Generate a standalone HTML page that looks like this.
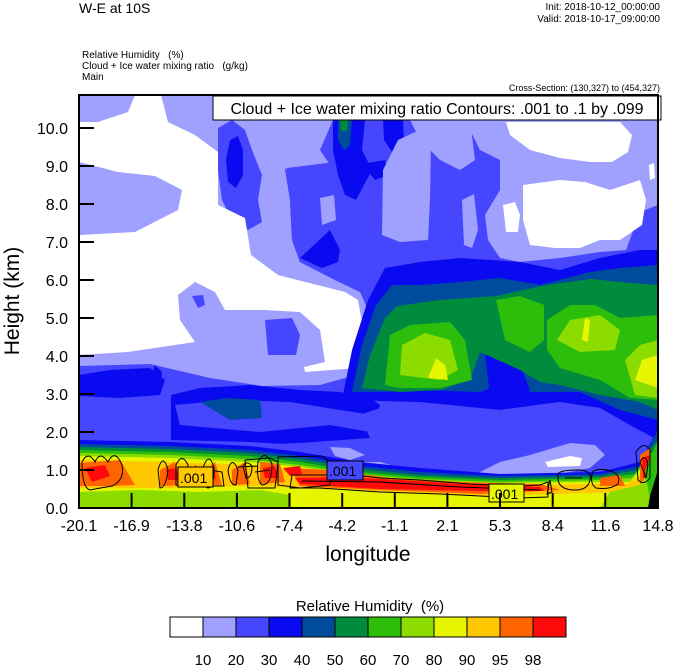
<!DOCTYPE html>
<html><head><meta charset="utf-8"><style>
body{margin:0;background:#fff;}
svg{display:block;font-family:"Liberation Sans",sans-serif;}
text{white-space:pre;}
</style></head><body>
<svg width="674" height="667" viewBox="0 0 674 667" xmlns="http://www.w3.org/2000/svg">
<defs><clipPath id="c"><rect x="79" y="95" width="579" height="413"/></clipPath></defs>
<g clip-path="url(#c)">
<rect x="79" y="95" width="579" height="413" fill="#4646ff"/>
<path fill="#a0a0ff" d="M79,95 L225,95 L240,95 L291,95 L291,150 L285,170 L290,200 L292,240 L300,262 L335,280 L360,292 L368,310 L362,340 L352,376 L320,385 L262,386 L210,378 L150,364 L79,366 Z"/>
<path fill="#a0a0ff" d="M250,95 L335,95 L333,120 L320,150 L330,165 L287,170 Z"/>
<path fill="#4646ff" d="M287,168 L335,162 L362,164 L380,235 L376,300 L360,292 L335,280 L300,262 L292,240 L290,200 Z"/>
<path fill="#4646ff" d="M218,128 L232,120 L245,130 L252,150 L262,175 L258,200 L262,222 L248,230 L232,220 L222,200 L218,170 Z"/>
<path fill="#0a0af0" d="M230,140 L238,136 L243,150 L243,175 L236,188 L228,182 L226,160 Z"/>
<path fill="#a0a0ff" d="M320,198 L334,195 L336,220 L322,225 Z"/>
<path fill="#0a0af0" d="M300,258 L330,230 L340,250 L338,262 L322,268 Z"/>
<path fill="#fff" d="M98,122 L128,112 L135,95 L161,95 L168,122 L195,135 L218,152 L218,205 L245,218 L251,255 L278,275 L345,292 L358,300 L362,322 L358,368 L305,372 L300,345 L268,310 L225,310 L224,335 L195,342 L128,352 L79,355 L79,235 L135,232 L178,210 L182,190 L155,176 L118,172 L79,162 L79,122 Z"/>
<path fill="#a0a0ff" d="M178,295 L195,282 L215,292 L225,310 L225,335 L195,342 L180,320 Z"/>
<path fill="#4646ff" d="M192,296 L203,295 L205,305 L198,308 Z"/>
<path fill="#a0a0ff" d="M263,310 L300,312 L320,330 L325,362 L300,368 L265,360 Z"/>
<path fill="#4646ff" d="M265,320 L292,318 L300,335 L296,355 L268,355 Z"/>
<path fill="#0a0af0" d="M333,120 L365,120 L362,150 L372,170 L356,200 L345,195 L338,175 L333,150 Z"/>
<path fill="#004c9c" d="M338,120 L352,120 L350,145 L344,150 L338,140 Z"/>
<path fill="#008c3c" d="M340,120 L348,120 L347,131 L341,131 Z"/>
<path fill="#0a0af0" d="M383,120 L403,120 L404,145 L392,152 L384,140 Z"/>
<path fill="#0a0af0" d="M362,164 L385,160 L388,175 L375,180 Z"/>
<path fill="#a0a0ff" d="M383,170 L398,140 L415,132 L431,140 L430,200 L428,240 L400,242 L382,235 Z"/>
<path fill="#a0a0ff" d="M462,200 L474,194 L478,230 L472,248 L464,245 Z"/>
<path fill="#a0a0ff" d="M460,120 L658,120 L658,205 L640,212 L626,250 L600,252 L560,258 L520,262 L500,258 L488,240 L485,215 L500,190 L500,160 L480,150 L470,130 Z"/>
<path fill="#a0a0ff" d="M410,120 L470,120 L475,160 L460,170 L440,160 L420,140 Z"/>
<path fill="#fff" d="M506,122 L620,122 L632,135 L628,152 L612,162 L590,162 L560,158 L530,150 L510,135 Z"/>
<path fill="#fff" d="M523,185 L560,180 L585,182 L610,190 L640,180 L646,200 L642,225 L620,240 L600,240 L580,248 L555,248 L530,245 L523,220 Z"/>
<path fill="#fff" d="M503,205 L515,202 L520,215 L518,232 L506,232 Z"/>
<path fill="#fff" d="M649,165 L654,163 L655,178 L650,180 Z"/>
<path fill="#0a0af0" d="M342,400 L352,350 L368,300 L385,268 L420,262 L460,258 L520,262 L560,270 L600,258 L640,250 L658,250 L658,440 L620,420 L560,402 L500,410 L420,402 Z"/>
<path fill="#004c9c" d="M352,392 L362,345 L376,305 L392,285 L420,285 L460,282 L500,278 L540,285 L590,272 L620,268 L658,265 L658,420 L620,410 L580,392 L530,392 L510,380 L480,392 L420,390 L380,392 Z"/>
<path fill="#0a0af0" d="M485,355 L500,350 L520,365 L530,390 L510,400 L490,395 Z"/>
<path fill="#008c3c" d="M362,388 L370,355 L385,318 L397,306 L440,300 L496,296 L547,285 L591,279 L630,283 L658,285 L658,410 L640,402 L600,395 L560,385 L540,382 L520,370 L480,352 L470,380 L440,390 L400,392 Z"/>
<path fill="#2cbe0a" d="M385,385 L390,335 L410,325 L450,322 L465,340 L472,380 L440,388 L400,388 Z"/>
<path fill="#2cbe0a" d="M496,300 L520,296 L544,305 L544,340 L530,352 L505,340 Z"/>
<path fill="#2cbe0a" d="M547,320 L570,305 L595,305 L620,318 L658,315 L658,400 L630,398 L600,380 L560,368 L547,350 Z"/>
<path fill="#8cdc00" d="M400,375 L402,345 L425,333 L450,340 L458,370 L440,380 Z"/>
<path fill="#8cdc00" d="M557,340 L570,320 L600,315 L620,330 L615,350 L580,352 Z"/>
<path fill="#8cdc00" d="M625,360 L640,345 L658,340 L658,398 L635,395 Z"/>
<path fill="#e6f500" d="M428,378 L436,358 L445,365 L448,380 Z"/>
<path fill="#e6f500" d="M582,340 L585,318 L590,320 L588,342 Z"/>
<path fill="#e6f500" d="M635,380 L642,360 L658,355 L658,388 Z"/>
<path fill="#0a0af0" d="M79,375 L110,370 L150,368 L165,380 L160,395 L120,398 L79,396 Z"/>
<path fill="#0a0af0" d="M150,380 L155,365 L162,372 L160,395 Z"/>
<path fill="#0a0af0" d="M171,395 L200,388 L250,385 L300,390 L340,392 L370,398 L380,405 L370,440 L300,445 L250,442 L171,440 Z"/>
<path fill="#4646ff" d="M175,405 L230,400 L290,402 L340,410 L372,415 L370,432 L330,425 L260,432 L180,425 Z"/>
<path fill="#004c9c" d="M200,402 L228,398 L260,400 L262,418 L230,420 Z"/>
<path fill="#4646ff" d="M79,398 L170,400 L171,440 L79,438 Z"/>
<path fill="#4646ff" d="M360,415 L380,408 L440,410 L500,410 L560,402 L600,408 L630,425 L650,440 L648,462 L600,468 L500,470 L420,466 L360,462 L300,456 L250,445 L300,443 L370,438 Z"/>
<path fill="#a0a0ff" d="M472,476 L500,462 L530,455 L570,443 L595,445 L605,455 L590,468 L560,474 L500,476 Z"/>
<path fill="#a0a0ff" d="M330,447 L350,448 L365,455 L350,460 L335,456 Z"/>
<path fill="#a0a0ff" d="M364,462 L380,462 L408,470 L395,474 L365,474 Z"/>
<path fill="#fff" d="M545,462 L570,456 L582,458 L580,466 L548,467 Z"/>
<path fill="#0a0af0" d="M79,440 L170,442 L250,446 L300,452 L360,462 L420,468 L500,474 L600,472 L640,462 L652,440 L658,420 L658,508 L79,508 Z"/>
<path fill="#004c9c" d="M79,444 L170,446 L250,450 L300,456 L360,466 L420,472 L500,476 L600,474 L640,466 L650,445 L658,430 L658,508 L79,508 Z"/>
<path fill="#008c3c" d="M79,447 L170,449 L250,453 L300,459 L360,469 L420,475 L500,478 L600,476 L638,470 L648,452 L658,440 L658,508 L79,508 Z"/>
<path fill="#2cbe0a" d="M79,450 L170,452 L250,456 L300,462 L360,472 L420,477 L500,480 L600,478 L635,474 L645,458 L658,448 L658,508 L79,508 Z"/>
<path fill="#8cdc00" d="M79,453 L170,455 L250,459 L300,465 L360,474 L420,479 L500,482 L600,480 L632,478 L642,465 L658,455 L658,508 L79,508 Z"/>
<path fill="#e6f500" d="M79,456 L170,458 L250,462 L300,467 L360,476 L420,481 L500,483 L600,482 L630,482 L640,470 L656,460 L658,508 L79,508 Z"/>
<path fill="#ffc800" d="M79,460 L170,462 L250,465 L300,470 L360,478 L420,483 L500,485 L600,484 L628,484 L640,475 L652,468 L650,490 L630,492 L560,494 L480,496 L380,492 L300,488 L250,486 L170,488 L79,488 Z"/>
<path fill="#ff6400" d="M79,463 L120,460 L135,485 L110,486 L79,486 Z M160,470 L175,462 L185,485 L160,486 Z M205,470 L215,462 L222,485 L205,485 Z M232,470 L245,462 L250,484 L232,485 Z M260,462 L280,464 L285,482 L260,484 Z M290,468 L330,470 L390,478 L460,482 L540,484 L560,490 L480,494 L380,490 L300,486 Z M600,478 L620,475 L625,486 L600,486 Z M640,455 L650,448 L652,480 L640,484 Z"/>
<path fill="#ff0a0a" d="M85,468 L105,465 L110,476 L92,482 Z M166,470 L176,468 L180,480 L168,480 Z M190,470 L196,465 L200,480 Z M208,470 L214,466 L216,480 Z M263,468 L275,466 L278,478 L265,478 Z M295,478 L340,477 L400,480 L460,484 L540,487 L545,491 L480,491 L380,489 L300,484 Z M283,468 L300,466 L302,474 L290,476 Z M642,458 L650,455 L650,480 L643,478 Z"/>
<path fill="#8cdc00" d="M79,492 L140,490 L200,492 L260,490 L290,495 L290,508 L79,508 Z"/>
<path fill="#8cdc00" d="M610,492 L640,485 L650,470 L658,455 L658,508 L600,508 Z"/>
<path fill="#2cbe0a" d="M645,470 L658,440 L658,508 L650,500 Z"/>
<path fill="#000" d="M650,496 L658,470 L658,508 L648,508 Z"/>
<g fill="none" stroke="#000" stroke-width="1">
<path d="M82,462 Q88,450 95,462 Q100,450 108,462 Q115,448 122,465 Q125,480 112,486 Q100,488 90,490 Q82,488 82,462 Z"/>
<path d="M158,470 Q163,452 168,470 Q166,488 160,488 Z"/>
<path d="M176,465 Q182,452 188,465 L188,485 Q182,488 176,485 Z"/>
<path d="M203,468 Q209,450 214,468 Q214,488 208,488 Q203,488 203,468 Z"/>
<path d="M228,470 Q232,455 238,470 L236,485 Q230,486 228,470 Z"/>
<path d="M258,462 Q265,448 272,464 Q272,485 262,485 Q256,480 258,462 Z"/>
<path d="M278,457 L322,456 L330,462 L330,485 L300,488 L278,485 Z"/>
<path d="M245,460 L270,458 L278,462 L275,488 L248,488 Z"/>
<path d="M238,467 L258,466"/>
<path d="M243,466 Q247,460 252,466 Q252,478 246,478 Z"/>
<path d="M255,472 L270,470"/>
<path d="M205,480 L210,470 L222,472 L224,486 L210,486 Z"/>
<path d="M292,475 L355,475 L380,478 L420,480 L470,484 L520,486 L540,485 L548,482 L548,497 L520,498 L480,496 L440,494 L380,492 L320,488 L290,488 Z"/>
<path d="M302,481 L380,482 L460,487 L540,490"/>
<path d="M550,480 L552,492 L547,494 Z"/>
<path d="M558,474 Q560,470 578,470 Q592,470 590,480 Q588,490 575,490 Q560,490 558,480 Z"/>
<path d="M592,474 Q592,468 608,470 Q622,474 618,484 Q610,490 596,488 Q590,484 592,474 Z"/>
<path d="M565,478 L582,478"/>
<path d="M636,452 Q644,440 650,450 L650,478 Q644,486 638,480 Z"/>
<path d="M640,462 Q645,452 648,464 L646,478 Z"/>
</g>
<g font-size="14" fill="#000">
<rect x="178" y="467" width="35" height="20" fill="#ffc800" stroke="#000"/>
<text x="180" y="483">.001</text>
<rect x="327" y="461" width="36" height="19" fill="#4646ff" stroke="#000"/>
<text x="329" y="476">.001</text>
<rect x="489" y="484" width="35" height="18" fill="#e6f500" stroke="#000"/>
<text x="491" y="499">.001</text>
</g>
</g>
<rect x="213" y="96" width="448" height="24" fill="#fff" stroke="#000" stroke-width="1"/>
<text x="437" y="114" font-size="16" text-anchor="middle">Cloud + Ice water mixing ratio Contours: .001 to .1 by .099</text>
<rect x="79" y="95" width="579" height="413" fill="none" stroke="#000" stroke-width="2"/>
<g stroke="#000" stroke-width="2">
<line x1="79" y1="508" x2="94" y2="508"/><line x1="79" y1="470" x2="94" y2="470"/><line x1="79" y1="432" x2="94" y2="432"/><line x1="79" y1="394" x2="94" y2="394"/><line x1="79" y1="356" x2="94" y2="356"/><line x1="79" y1="318" x2="94" y2="318"/><line x1="79" y1="280" x2="94" y2="280"/><line x1="79" y1="242" x2="94" y2="242"/><line x1="79" y1="204" x2="94" y2="204"/><line x1="79" y1="166" x2="94" y2="166"/><line x1="79" y1="128" x2="94" y2="128"/>
<line x1="131.6" y1="508" x2="131.6" y2="493"/><line x1="184.3" y1="508" x2="184.3" y2="493"/><line x1="236.9" y1="508" x2="236.9" y2="493"/><line x1="289.5" y1="508" x2="289.5" y2="493"/><line x1="342.2" y1="508" x2="342.2" y2="493"/><line x1="394.8" y1="508" x2="394.8" y2="493"/><line x1="447.4" y1="508" x2="447.4" y2="493"/><line x1="500" y1="508" x2="500" y2="493"/><line x1="552.7" y1="508" x2="552.7" y2="493"/><line x1="605.3" y1="508" x2="605.3" y2="493"/>
</g>
<g font-size="16" text-anchor="end">
<text x="68" y="514">0.0</text><text x="68" y="476">1.0</text><text x="68" y="438">2.0</text><text x="68" y="400">3.0</text><text x="68" y="362">4.0</text><text x="68" y="324">5.0</text><text x="68" y="286">6.0</text><text x="68" y="248">7.0</text><text x="68" y="210">8.0</text><text x="68" y="172">9.0</text><text x="68" y="134">10.0</text>
</g>
<g font-size="16" text-anchor="middle">
<text x="79" y="531">-20.1</text><text x="131.6" y="531">-16.9</text><text x="184.3" y="531">-13.8</text><text x="236.9" y="531">-10.6</text><text x="289.5" y="531">-7.4</text><text x="342.2" y="531">-4.2</text><text x="394.8" y="531">-1.1</text><text x="447.4" y="531">2.1</text><text x="500" y="531">5.3</text><text x="552.7" y="531">8.4</text><text x="605.3" y="531">11.6</text><text x="658" y="531">14.8</text>
</g>
<text x="368" y="561" font-size="21" text-anchor="middle">longitude</text>
<text transform="translate(19,301) rotate(-90)" font-size="21" text-anchor="middle">Height (km)</text>
<text x="79" y="13" font-size="14">W-E at 10S</text>
<text x="660" y="10" font-size="10" text-anchor="end">Init: 2018-10-12_00:00:00</text>
<text x="660" y="22" font-size="10" text-anchor="end">Valid: 2018-10-17_09:00:00</text>
<text x="82" y="58" font-size="10">Relative Humidity   (%)</text>
<text x="82" y="69" font-size="10">Cloud + Ice water mixing ratio   (g/kg)</text>
<text x="82" y="80" font-size="10">Main</text>
<text x="660" y="91" font-size="9" text-anchor="end">Cross-Section: (130,327) to (454,327)</text>
<text x="370" y="611" font-size="15" text-anchor="middle">Relative Humidity  (%)</text>
<g stroke="#000" stroke-width="1">
<rect x="170" y="617" width="33" height="20" fill="#fff"/>
<rect x="203" y="617" width="33" height="20" fill="#a0a0ff"/>
<rect x="236" y="617" width="33" height="20" fill="#4646ff"/>
<rect x="269" y="617" width="33" height="20" fill="#0a0af0"/>
<rect x="302" y="617" width="33" height="20" fill="#004c9c"/>
<rect x="335" y="617" width="33" height="20" fill="#008c3c"/>
<rect x="368" y="617" width="33" height="20" fill="#2cbe0a"/>
<rect x="401" y="617" width="33" height="20" fill="#8cdc00"/>
<rect x="434" y="617" width="33" height="20" fill="#e6f500"/>
<rect x="467" y="617" width="33" height="20" fill="#ffc800"/>
<rect x="500" y="617" width="33" height="20" fill="#ff6400"/>
<rect x="533" y="617" width="33" height="20" fill="#ff0a0a"/>
</g>
<g font-size="15" text-anchor="middle">
<text x="203" y="665">10</text><text x="236" y="665">20</text><text x="269" y="665">30</text><text x="302" y="665">40</text><text x="335" y="665">50</text><text x="368" y="665">60</text><text x="401" y="665">70</text><text x="434" y="665">80</text><text x="467" y="665">90</text><text x="500" y="665">95</text><text x="533" y="665">98</text>
</g>
</svg>
</body></html>
